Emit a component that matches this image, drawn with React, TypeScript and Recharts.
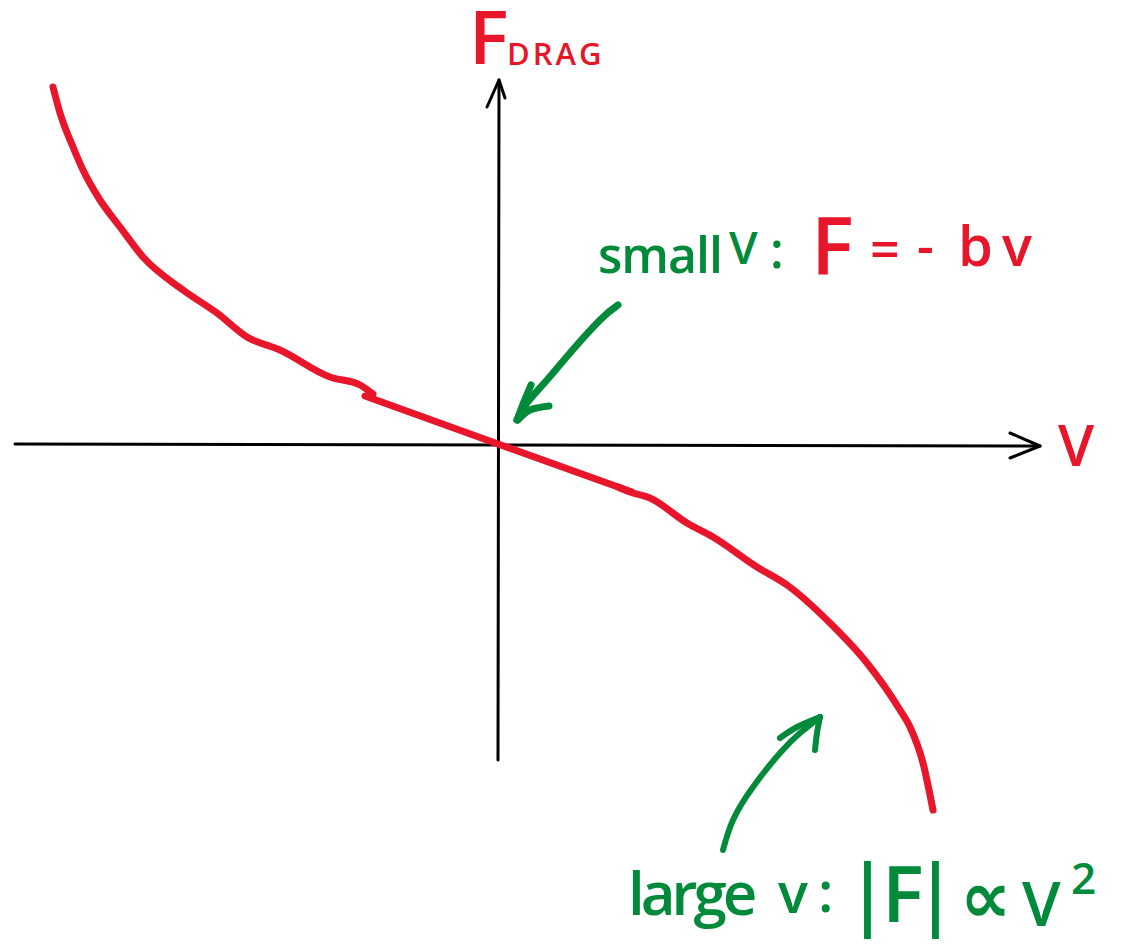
import React from "react";
import { ComposedChart, Line, XAxis, YAxis, Customized } from "recharts";

const W = 1128;
const H = 944;
const RED = "#E8162B";
const GREEN = "#028A3B";
const FONT = "'Open Sans', 'DejaVu Sans', sans-serif";

// drag force F vs velocity v (sketch units)
const leftCurve = [
  { v: -8.9, f: 7.14 },
  { v: -8.76, f: 6.62 },
  { v: -8.5, f: 5.94 },
  { v: -8.3, f: 5.48 },
  { v: -7.96, f: 4.88 },
  { v: -7.56, f: 4.34 },
  { v: -7.1, f: 3.74 },
  { v: -6.3, f: 3.08 },
  { v: -5.62, f: 2.62 },
  { v: -5.02, f: 2.14 },
  { v: -4.36, f: 1.88 },
  { v: -3.36, f: 1.34 },
  { v: -2.76, f: 1.18 },
  { v: -2.5, f: 1.0 },
];
const linearPart = [
  { v: -2.66, f: 0.96 },
  { v: 0, f: 0 },
  { v: 2.68, f: -0.96 },
];
const rightCurve = [
  { v: 2.4, f: -0.86 },
  { v: 2.64, f: -0.96 },
  { v: 3.04, f: -1.08 },
  { v: 3.78, f: -1.58 },
  { v: 4.3, f: -1.86 },
  { v: 5.18, f: -2.46 },
  { v: 5.78, f: -2.82 },
  { v: 6.64, f: -3.58 },
  { v: 7.38, f: -4.38 },
  { v: 8.04, f: -5.32 },
  { v: 8.24, f: -5.66 },
  { v: 8.5, f: -6.38 },
  { v: 8.7, f: -7.32 },
];

// axes
const vAxis = [
  { v: -9.66, f: 0 },
  { v: 10.84, f: -0.04 },
];
const vAxisHead = [
  { v: 10.24, f: 0.22 },
  { v: 10.84, f: -0.04 },
  { v: 10.24, f: -0.28 },
];
const fAxis = [
  { v: 0, f: -6.32 },
  { v: 0.02, f: 7.28 },
];
const fAxisHead = [
  { v: -0.22, f: 6.74 },
  { v: 0.02, f: 7.28 },
  { v: 0.14, f: 6.92 },
];

// annotation arrows
const smallArrow = [
  { v: 2.4, f: 2.78 },
  { v: 2.04, f: 2.48 },
  { v: 1.44, f: 1.82 },
  { v: 0.98, f: 1.28 },
  { v: 0.58, f: 0.82 },
  { v: 0.38, f: 0.48 },
];
const smallArrowBarbA = [
  { v: 0.66, f: 1.18 },
  { v: 0.5, f: 0.8 },
  { v: 0.38, f: 0.48 },
];
const smallArrowBarbB = [
  { v: 1.02, f: 0.76 },
  { v: 0.64, f: 0.68 },
  { v: 0.4, f: 0.48 },
];
const largeArrow = [
  { v: 4.5, f: -8.12 },
  { v: 4.7, f: -7.52 },
  { v: 5.1, f: -6.86 },
  { v: 5.64, f: -6.18 },
  { v: 6.04, f: -5.78 },
  { v: 6.44, f: -5.46 },
];
const largeArrowBarbA = [
  { v: 5.64, f: -5.88 },
  { v: 5.98, f: -5.66 },
  { v: 6.44, f: -5.46 },
];
const largeArrowBarbB = [
  { v: 6.44, f: -5.46 },
  { v: 6.38, f: -5.78 },
  { v: 6.34, f: -6.12 },
];

const Annotations = () => (
  <g fontFamily={FONT} fontWeight={600}>
    {/* F_DRAG */}
    <text x={469} y={64} fontSize={74} fill={RED}>F</text>
    <text x={507} y={65} fontSize={31} fill={RED} letterSpacing={3}>DRAG</text>
    {/* V */}
    <text x={1058} y={466} fontSize={58} fill={RED}>V</text>
    {/* small V: F = - bv */}
    <text x={598} y={273} fontSize={50} fill={GREEN} letterSpacing={-1}>small</text>
    <text x={729} y={264} fontSize={46} fill={GREEN}>V</text>
    <text x={770} y={268} fontSize={50} fill={GREEN}>:</text>
    <text x={811} y={275} fontSize={80} fill={RED}>F</text>
    <text x={870} y={268} fontSize={52} fill={RED}>=</text>
    <text x={917} y={265} fontSize={52} fill={RED}>-</text>
    <text x={958} y={266} fontSize={56} fill={RED}>b</text>
    <text x={1002} y={266} fontSize={56} fill={RED}>v</text>
    {/* large v : |F| ∝ v² */}
    <text x={628} y={915} fontSize={60} fill={GREEN} letterSpacing={-4}>large</text>
    <text x={778} y={913} fontSize={56} fill={GREEN}>v</text>
    <text x={818} y={912} fontSize={56} fill={GREEN}>:</text>
    <text x={846} y={920} fontSize={78} fill={GREEN}>
      <tspan>|</tspan>
      <tspan x={882} y={922}>F</tspan>
      <tspan x={914} y={920}>|</tspan>
    </text>
    <text x={960} y={922} fontSize={72} fill={GREEN}>∝</text>
    <text x={1022} y={926} fontSize={62} fill={GREEN}>V</text>
    <text x={1071} y={894} fontSize={44} fill={GREEN}>2</text>
  </g>
);

type Pt = { v: number; f: number };

const stroke = (data: Pt[], color: string, width: number, type: any, key: string) => (
  <Line
    key={key}
    data={data}
    dataKey="f"
    type={type}
    stroke={color}
    strokeWidth={width}
    strokeLinecap="round"
    strokeLinejoin="round"
    dot={false}
    activeDot={false}
    isAnimationActive={false}
    legendType="none"
  />
);

export default function App() {
  return (
    <div style={{ position: "absolute", left: 0, top: 0, width: W, height: H, background: "#fff" }}>
      <ComposedChart width={W} height={H} margin={{ top: 0, right: 0, bottom: 0, left: 0 }}>
        <XAxis type="number" dataKey="v" domain={[-9.96, 12.6]} hide allowDataOverflow />
        <YAxis type="number" dataKey="f" domain={[-10, 8.88]} hide allowDataOverflow />
        {stroke(vAxis, "#000", 3, "linear", "va")}
        {stroke(vAxisHead, "#000", 3, "linear", "vah")}
        {stroke(fAxis, "#000", 3, "linear", "fa")}
        {stroke(fAxisHead, "#000", 3, "linear", "fah")}
        {stroke(leftCurve, RED, 7, "monotoneX", "lc")}
        {stroke(linearPart, RED, 7, "linear", "lp")}
        {stroke(rightCurve, RED, 7, "monotoneX", "rc")}
        {stroke(smallArrow, GREEN, 7, "natural", "sa")}
        {stroke(smallArrowBarbA, GREEN, 7, "natural", "sab")}
        {stroke(smallArrowBarbB, GREEN, 7, "natural", "sac")}
        {stroke(largeArrow, GREEN, 6, "natural", "la")}
        {stroke(largeArrowBarbA, GREEN, 6, "natural", "lab")}
        {stroke(largeArrowBarbB, GREEN, 6, "natural", "lac")}
        <Customized component={Annotations} />
      </ComposedChart>
    </div>
  );
}
